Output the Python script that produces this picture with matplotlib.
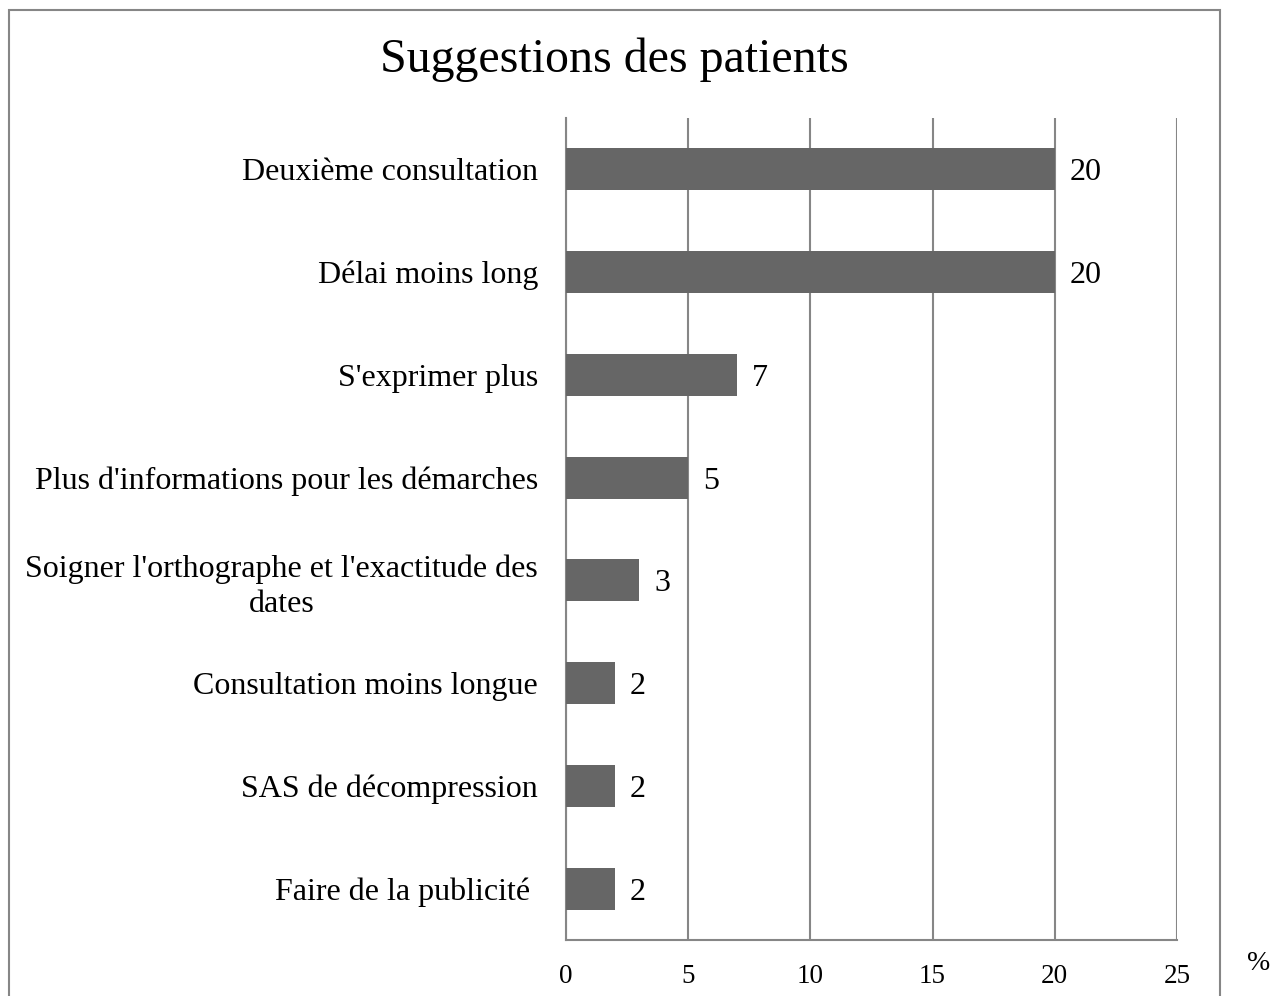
import matplotlib
matplotlib.use("Agg")
import matplotlib.pyplot as plt
from matplotlib.patches import Rectangle

# Data
categories = [
    "Deuxième consultation",
    "Délai moins long",
    "S'exprimer plus",
    "Plus d'informations pour les démarches",
    "Soigner l'orthographe et l'exactitude des\ndates",
    "Consultation moins longue",
    "SAS de décompression",
    "Faire de la publicité ",
]
values = [20, 20, 7, 5, 3, 2, 2, 2]
xticks = [0, 5, 10, 15, 20, 25]

TITLE = "Suggestions des patients"
BAR_COLOR = "#666666"
LINE_COLOR = "#868686"

plt.rcParams["font.family"] = ["Liberation Serif", "DejaVu Serif"]

fig = plt.figure(figsize=(12.85, 9.96), dpi=100)
ax = fig.add_axes([566 / 1285, 1 - 940 / 996, (1177 - 566) / 1285, (940 - 118) / 996])

# outer chart border (bottom edge runs off the image)
fig.patches.append(Rectangle((9 / 1285, -0.05), (1220 - 9) / 1285, 1 - 10 / 996 + 0.05,
                             transform=fig.transFigure, fill=False,
                             edgecolor=LINE_COLOR, linewidth=1.5))

y = list(range(len(categories)))
ax.barh(y, values, height=0.41, color=BAR_COLOR, zorder=3)
ax.set_ylim(len(categories) - 0.5, -0.5)
ax.set_xlim(0, 25)

ax.set_yticks(y)
ax.set_yticklabels(categories, fontsize=23, ha="right", multialignment="center",
                   linespacing=1.25)
ax.set_xticks(xticks)
ax.set_xticklabels([str(t) for t in xticks], fontsize=19.5)
ax.tick_params(axis="both", length=0)
ax.tick_params(axis="y", pad=20)
ax.tick_params(axis="x", pad=17)

ax.grid(axis="x", color=LINE_COLOR, linewidth=1.5, zorder=0)
for side in ["top", "right"]:
    ax.spines[side].set_visible(False)
for side in ["left", "bottom"]:
    ax.spines[side].set_color(LINE_COLOR)
    ax.spines[side].set_linewidth(1.5)

for yi, v in zip(y, values):
    ax.text(v + 0.6, yi, str(v), va="center_baseline", ha="left", fontsize=23)

fig.text(1259 / 1285, 1 - 963 / 996, "%", fontsize=20, ha="center", va="center")
fig.text(614 / 1285, 1 - 60 / 996, TITLE, fontsize=34.5, ha="center", va="center")

fig.savefig("out.png", dpi=100)
plt.close(fig)
